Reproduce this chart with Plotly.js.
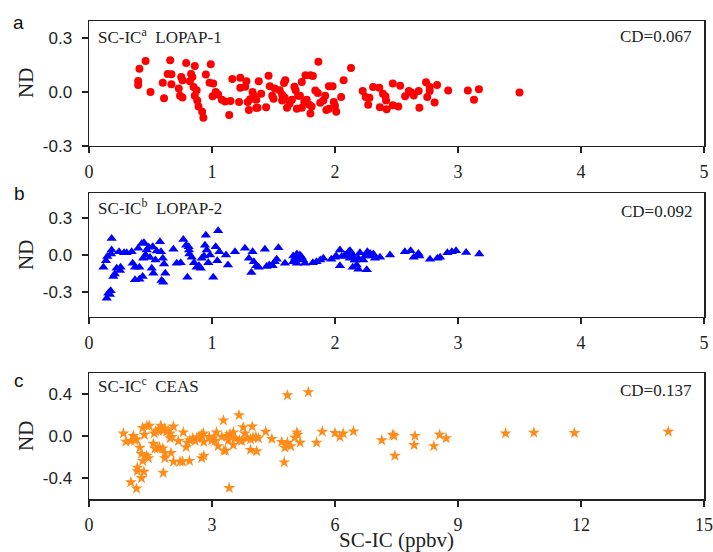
<!DOCTYPE html>
<html>
<head>
<meta charset="utf-8">
<script src="https://cdn.plot.ly/plotly-3.0.1.min.js"></script>
<style>html,body{margin:0;padding:0;background:#fff;}#chart{width:713px;height:552px;}</style>
</head>
<body>
<div id="chart"></div>
<script>
// Panel a: SC-IC vs LOPAP-1
var aX = [0.40,0.40,0.41,0.46,0.50,0.60,0.61,0.64,0.67,0.67,0.66,0.73,0.75,0.76,0.74,0.76,0.79,0.83,0.84,0.82,0.86,0.85,0.875,0.86,0.88,0.89,0.92,0.93,0.95,0.99,0.98,1.01,1.03,1.05,1.005,1.08,1.106,1.14,1.15,1.165,1.23,1.23,1.27,1.28,1.22,1.30,1.29,1.31,1.33,1.34,1.36,1.38,1.40,1.36,1.37,1.44,1.46,1.47,1.49,1.50,1.51,1.55,1.57,1.585,1.596,1.57,1.59,1.61,1.63,1.65,1.67,1.68,1.70,1.715,1.73,1.69,1.73,1.75,1.76,1.80,1.82,1.77,1.79,1.81,1.80,1.865,1.84,1.86,1.88,1.905,1.92,1.93,1.95,1.95,1.98,1.99,2.0,2.01,2.05,2.07,2.13,2.225,2.25,2.28,2.27,2.31,2.36,2.39,2.41,2.415,2.365,2.42,2.47,2.47,2.515,2.53,2.57,2.60,2.62,2.64,2.68,2.686,2.74,2.77,2.77,2.75,2.81,2.83,2.92,3.08,3.17,3.13,3.50];
var aY = [0.061,0.039,0.13,0.173,0.0,0.052,-0.035,0.10,0.099,0.043,0.177,0.02,0.084,0.065,-0.02,-0.03,0.162,0.10,0.084,0.06,0.145,0.028,0.01,-0.02,-0.047,-0.08,-0.11,-0.143,0.097,0.155,0.052,0.047,0.0,-0.013,-0.024,-0.043,-0.052,-0.127,-0.05,0.073,0.08,0.024,0.03,0.06,-0.056,-0.10,-0.056,-0.04,0.0,-0.02,-0.043,0.06,-0.01,-0.088,-0.088,-0.084,0.09,0.032,-0.02,-0.037,0.02,0.01,-0.015,0.05,0.065,-0.047,-0.03,-0.088,-0.065,-0.043,0.03,0.01,-0.02,-0.02,0.056,-0.093,-0.088,-0.056,0.093,0.093,0.089,-0.043,-0.07,-0.08,-0.12,0.168,0.009,-0.006,-0.06,-0.047,-0.02,-0.10,-0.093,0.032,0.032,-0.056,-0.076,-0.11,-0.028,0.065,0.134,0.006,-0.028,-0.032,-0.07,0.028,0.024,-0.009,-0.024,-0.047,-0.084,-0.095,0.047,-0.074,-0.08,0.035,-0.024,0.006,-0.002,-0.019,0.006,-0.088,0.054,0.028,0.006,-0.028,-0.058,0.039,0.009,0.009,0.015,-0.043,-0.002];

// Panel b: SC-IC vs LOPAP-2
var bX = [0.117,0.138,0.149,0.144,0.157,0.17,0.176,0.184,0.184,0.179,0.198,0.21,0.225,0.244,0.252,0.257,0.285,0.306,0.347,0.355,0.374,0.41,0.374,0.41,0.43,0.447,0.40,0.436,0.44,0.46,0.47,0.485,0.496,0.51,0.518,0.523,0.54,0.55,0.577,0.585,0.60,0.61,0.59,0.604,0.62,0.686,0.713,0.745,0.767,0.79,0.81,0.813,0.80,0.816,0.835,0.854,0.875,0.894,0.908,0.916,0.935,0.943,0.95,0.957,0.97,0.984,1.01,1.03,1.05,1.043,1.06,1.114,1.13,1.187,1.268,1.30,1.33,1.34,1.32,1.36,1.38,1.43,1.444,1.466,1.493,1.51,1.526,1.54,1.593,1.66,1.675,1.69,1.70,1.715,1.73,1.74,1.756,1.66,1.69,1.82,1.85,1.88,1.905,1.97,2.0,2.01,2.04,2.04,2.08,2.11,2.12,2.14,2.16,2.176,2.054,2.095,2.122,2.144,2.163,2.19,2.203,2.23,2.244,2.263,2.285,2.298,2.312,2.325,2.366,2.447,2.144,2.19,2.258,2.568,2.615,2.64,2.678,2.686,2.772,2.832,2.854,2.914,2.95,2.984,3.066,3.173];
var bY = [-0.10,-0.046,-0.013,-0.35,-0.31,-0.32,-0.29,0.134,0.04,0.008,-0.174,-0.153,-0.107,0.027,-0.126,-0.10,0.019,0.019,0.027,-0.067,-0.20,-0.196,-0.10,-0.10,0.094,0.10,0.054,-0.174,-0.027,0.0,0.04,0.062,-0.02,-0.107,0.067,-0.147,-0.04,0.032,0.107,0.027,-0.027,-0.072,-0.206,-0.22,-0.147,0.046,-0.067,-0.062,0.126,0.08,0.067,0.04,-0.18,0.008,-0.019,-0.062,-0.10,-0.088,-0.107,-0.027,-0.008,0.08,0.16,0.04,-0.062,0.0,-0.18,0.067,0.196,-0.046,0.027,0.0,-0.08,0.027,0.054,-0.027,0.027,-0.054,-0.142,-0.088,-0.10,0.046,-0.094,-0.08,-0.088,-0.054,-0.035,0.059,-0.067,-0.008,-0.027,0.008,-0.035,0.0,-0.019,-0.04,-0.067,-0.054,-0.067,-0.062,-0.054,-0.04,-0.027,-0.035,-0.019,-0.008,0.04,-0.088,0.0,0.027,-0.027,0.008,-0.04,-0.08,-0.013,-0.008,0.035,-0.019,-0.04,-0.027,0.019,-0.04,-0.008,0.027,0.013,-0.008,0.008,-0.027,-0.019,0.0,-0.10,-0.115,-0.12,0.027,0.035,-0.019,0.013,-0.008,-0.035,-0.027,-0.019,0.019,0.027,0.035,0.021,0.008];

// Panel c: SC-IC vs CEAS
var cX = [0.84,0.90,1.02,1.08,1.12,1.16,1.02,1.16,1.18,1.18,1.24,1.28,1.31,1.28,1.34,1.31,1.35,1.41,1.45,1.41,1.47,1.57,1.61,1.67,1.72,1.59,1.63,1.69,1.75,1.77,1.81,1.85,1.89,1.93,1.98,1.80,1.85,1.85,1.81,1.98,2.02,2.0,2.06,2.06,2.18,2.22,2.28,2.45,2.30,2.37,2.40,2.46,2.53,2.59,2.63,2.67,2.71,2.75,2.79,2.75,2.80,2.80,2.93,2.99,3.03,3.07,3.11,3.15,3.24,3.28,3.29,3.33,3.36,3.40,3.44,3.48,3.52,3.56,3.42,3.52,3.66,3.67,3.72,3.76,3.80,3.86,3.94,4.0,4.07,4.13,3.94,4.09,3.98,4.31,4.46,4.70,4.78,4.84,4.76,4.84,4.92,5.02,5.07,5.09,5.15,5.35,5.55,5.69,6.0,6.12,6.2,6.45,7.14,7.41,7.44,7.46,7.95,7.93,8.41,8.55,8.71,10.16,10.85,11.84,14.13];
var cY = [0.026,-0.052,-0.046,0.003,-0.039,-0.03,-0.44,-0.50,-0.334,-0.30,-0.11,-0.17,-0.236,-0.40,-0.34,0.079,0.013,-0.187,-0.21,0.098,0.10,-0.072,-0.118,-0.118,-0.105,0.026,0.046,0.052,0.10,0.069,0.052,0.069,0.043,0.052,0.026,-0.118,-0.16,-0.21,-0.35,-0.02,-0.007,-0.16,0.092,-0.243,-0.046,-0.243,-0.243,-0.236,0.036,-0.105,-0.062,-0.039,-0.02,-0.046,-0.02,-0.013,-0.007,0.013,0.026,-0.21,-0.187,-0.056,-0.007,-0.039,-0.02,-0.046,0.036,-0.095,-0.007,0.151,-0.138,-0.138,0.003,-0.039,0.02,-0.007,0.036,-0.02,-0.495,-0.085,0.20,-0.039,-0.046,0.085,0.026,-0.02,-0.03,-0.013,-0.007,-0.02,-0.131,-0.144,0.092,0.043,-0.026,-0.056,-0.11,-0.062,-0.25,0.39,-0.095,-0.013,0.036,0.013,-0.062,0.42,-0.062,0.043,0.03,-0.007,0.026,0.046,-0.039,0.013,0.003,-0.187,0.003,-0.085,-0.095,0.013,-0.02,0.026,0.033,0.03,0.043];

// Tick labels
var yTicksAB = [-0.3, 0, 0.3];
var yTextAB = ['-0.3', '0.0', '0.3'];
var yTicksC = [-0.4, 0, 0.4];
var yTextC = ['-0.4', '0.0', '0.4'];

var serif = 'Liberation Serif, Times New Roman, serif';
var sans = 'Liberation Sans, Arial, sans-serif';
var axCol = '#222';

function xax(range, dtick, anchor, title) {
  var o = {
    range: range, dtick: dtick, tick0: 0, anchor: anchor,
    showgrid: false, zeroline: false,
    showline: true, mirror: true, linecolor: axCol, linewidth: 1.5,
    ticks: 'outside', ticklen: 6, tickwidth: 1.5, tickcolor: axCol,
    ticklabelstandoff: 3,
    tickfont: {family: serif, size: 18, color: '#222'}
  };
  if (title) o.title = {text: title, font: {family: serif, size: 21, color: '#222'}, standoff: 2};
  return o;
}
function yax(range, tickvals, ticktext, domain, anchor) {
  return {
    range: range, tickvals: tickvals, ticktext: ticktext, domain: domain, anchor: anchor,
    showgrid: false, zeroline: false,
    showline: true, mirror: true, linecolor: axCol, linewidth: 1.5,
    ticks: 'outside', ticklen: 6, tickwidth: 1.5, tickcolor: axCol,
    ticklabelstandoff: 6,
    tickfont: {family: sans, size: 17, color: '#222'}
  };
}

var traces = [
  {x: aX, y: aY, xaxis: 'x', yaxis: 'y', type: 'scatter', mode: 'markers',
   marker: {symbol: 'circle', size: 8, color: '#FF0000'}},
  {x: bX, y: bY, xaxis: 'x2', yaxis: 'y2', type: 'scatter', mode: 'markers',
   marker: {symbol: 'triangle-up', size: 9, color: '#0000FF'}},
  {x: cX, y: cY, xaxis: 'x3', yaxis: 'y3', type: 'scatter', mode: 'markers',
   marker: {symbol: 'star', size: 9, color: '#FF8C1A'}}
];

var W = 713, H = 552;
function py(p) { return 1 - (p - 21) / 478; }
function px(p) { return (p - 89) / 615; }

var ann = [];
function txt(x, y, t, anchor, font, angle) {
  var a = {xref: 'paper', yref: 'paper', x: x, y: y, text: t, showarrow: false,
    xanchor: anchor, yanchor: 'middle', font: font};
  if (angle) a.textangle = angle;
  ann.push(a);
}
var lf = {family: serif, size: 17, color: '#222'};
var pf = {family: sans, size: 19, color: '#111'};
var nf = {family: serif, size: 21, color: '#222'};
txt(px(96), py(36), 'SC-IC<sup>a</sup>  LOPAP-1', 'left', lf);
txt(px(694), py(36), 'CD=0.067', 'right', lf);
txt(px(96), py(207), 'SC-IC<sup>b</sup>  LOPAP-2', 'left', lf);
txt(px(694), py(212), 'CD=0.092', 'right', lf);
txt(px(96), py(385), 'SC-IC<sup>c</sup>  CEAS', 'left', lf);
txt(px(694), py(390), 'CD=0.137', 'right', lf);
txt(px(18), py(23), 'a', 'center', pf);
txt(px(19), py(194), 'b', 'center', pf);
txt(px(19), py(380), 'c', 'center', pf);
txt(px(26), py(83), 'ND', 'center', nf, -90);
txt(px(26), py(255), 'ND', 'center', nf, -90);
txt(px(26), py(436), 'ND', 'center', nf, -90);

var layout = {
  width: W, height: H,
  margin: {l: 89, r: 9, t: 21, b: 53},
  paper_bgcolor: '#fff', plot_bgcolor: '#fff',
  showlegend: false,
  xaxis: xax([0, 5], 1, 'y'),
  yaxis: yax([-0.3, 0.395], yTicksAB, yTextAB, [0.7385, 1], 'x'),
  xaxis2: xax([0, 5], 1, 'y2'),
  yaxis2: yax([-0.5, 0.5], yTicksAB, yTextAB, [0.3814, 0.6395], 'x2'),
  xaxis3: xax([0, 15], 3, 'y3', 'SC-IC (ppbv)'),
  yaxis3: yax([-0.6, 0.6], yTicksC, yTextC, [0, 0.263], 'x3'),
  annotations: ann
};

Plotly.newPlot('chart', traces, layout, {staticPlot: true, displayModeBar: false});
</script>
</body>
</html>
